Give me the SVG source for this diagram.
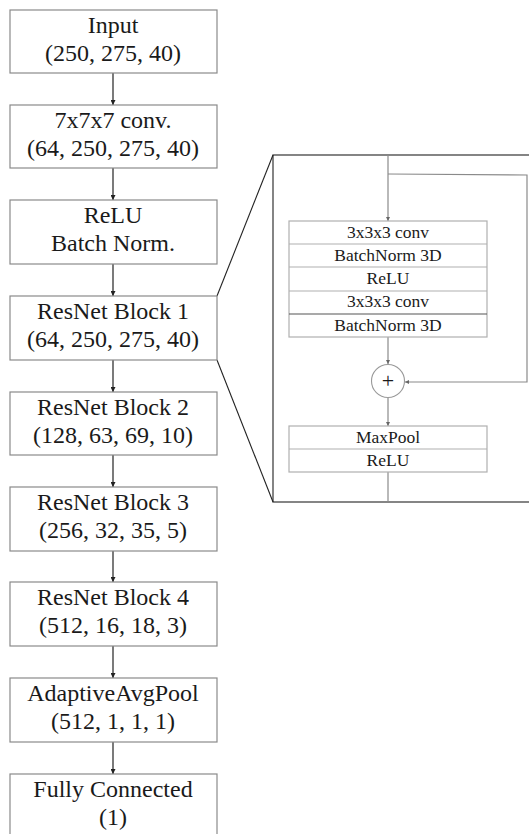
<svg xmlns="http://www.w3.org/2000/svg" width="529" height="834" viewBox="0 0 529 834">
<defs>
<style>
.box{fill:#fff;stroke:#8a8a8a;stroke-width:1.2}
.t{font-family:"Liberation Serif","DejaVu Serif",serif;font-size:24px;fill:#1a1a1a;text-anchor:middle}
.s{font-family:"Liberation Serif","DejaVu Serif",serif;font-size:17.5px;fill:#1a1a1a;text-anchor:middle}
.arr{stroke:#333;stroke-width:1.3;fill:none;marker-end:url(#ah)}
.garr{stroke:#8a8a8a;stroke-width:1.2;fill:none}
.ibox{fill:#fff;stroke:#b0b0b0;stroke-width:1.2}
.blk{stroke:#222;stroke-width:1.1;fill:none}
</style>
<marker id="ah" viewBox="0 0 8 8" refX="8" refY="4" markerWidth="5" markerHeight="5" orient="auto" markerUnits="userSpaceOnUse">
<path d="M0,0 L8,4 L0,8 z" fill="#222"/>
</marker>
<marker id="gh" viewBox="0 0 8 8" refX="8" refY="4" markerWidth="4" markerHeight="4" orient="auto" markerUnits="userSpaceOnUse">
<path d="M0,0 L8,4 L0,8 z" fill="#666"/>
</marker>
</defs>
<rect width="529" height="834" fill="#fff"/>

<g id="connectors">
<line class="arr" x1="113" y1="73" x2="113" y2="105"/>
<line class="arr" x1="113" y1="168" x2="113" y2="200"/>
<line class="arr" x1="113" y1="264" x2="113" y2="296"/>
<line class="arr" x1="113" y1="360" x2="113" y2="392"/>
<line class="arr" x1="113" y1="455" x2="113" y2="487"/>
<line class="arr" x1="113" y1="551" x2="113" y2="582"/>
<line class="arr" x1="113" y1="646" x2="113" y2="678"/>
<line class="arr" x1="113" y1="742" x2="113" y2="774"/>
<line class="blk" x1="217" y1="296" x2="273" y2="155"/>
<line class="blk" x1="217" y1="360" x2="273" y2="502"/>
</g>

<g id="input"><rect class="box" x="10" y="10" width="207" height="63"/>
<text class="t" x="113" y="33">Input</text><text class="t" x="113" y="61">(250, 275, 40)</text></g>
<g id="conv7"><rect class="box" x="10" y="105" width="207" height="63"/>
<text class="t" x="113" y="128">7x7x7 conv.</text><text class="t" x="113" y="156">(64, 250, 275, 40)</text></g>
<g id="relu-bn"><rect class="box" x="10" y="200" width="207" height="64"/>
<text class="t" x="113" y="223">ReLU</text><text class="t" x="113" y="251">Batch Norm.</text></g>
<g id="block1"><rect class="box" x="10" y="296" width="207" height="64"/>
<text class="t" x="113" y="319">ResNet Block 1</text><text class="t" x="113" y="347">(64, 250, 275, 40)</text></g>
<g id="block2"><rect class="box" x="10" y="392" width="207" height="63"/>
<text class="t" x="113" y="415">ResNet Block 2</text><text class="t" x="113" y="443">(128, 63, 69, 10)</text></g>
<g id="block3"><rect class="box" x="10" y="487" width="207" height="64"/>
<text class="t" x="113" y="510">ResNet Block 3</text><text class="t" x="113" y="538">(256, 32, 35, 5)</text></g>
<g id="block4"><rect class="box" x="10" y="582" width="207" height="64"/>
<text class="t" x="113" y="605">ResNet Block 4</text><text class="t" x="113" y="633">(512, 16, 18, 3)</text></g>
<g id="avgpool"><rect class="box" x="10" y="678" width="207" height="64"/>
<text class="t" x="113" y="701">AdaptiveAvgPool</text><text class="t" x="113" y="729">(512, 1, 1, 1)</text></g>
<g id="fc"><rect class="box" x="10" y="774" width="207" height="64"/>
<text class="t" x="113" y="797">Fully Connected</text><text class="t" x="113" y="825">(1)</text></g>

<g id="detail">
<rect x="273" y="155" width="270" height="347" fill="none" stroke="#222" stroke-width="1.1"/>
<g id="detail-connectors">
<line class="garr" x1="388" y1="155" x2="388" y2="221" marker-end="url(#gh)"/>
<polyline class="garr" points="388,174 527,175 527,382 405,382" marker-end="url(#gh)"/>
<line class="garr" x1="388" y1="337" x2="388" y2="364" marker-end="url(#gh)"/>
<line class="garr" x1="388" y1="398" x2="388" y2="426" marker-end="url(#gh)"/>
<line class="garr" x1="388" y1="472" x2="388" y2="502"/>
</g>
<g id="res-stack">
<rect class="ibox" x="289" y="221" width="198" height="116"/>
<line stroke="#b0b0b0" stroke-width="1.2" x1="289" y1="244" x2="487" y2="244"/>
<line stroke="#b0b0b0" stroke-width="1.2" x1="289" y1="267" x2="487" y2="267"/>
<line stroke="#b0b0b0" stroke-width="1.2" x1="289" y1="291" x2="487" y2="291"/>
<line stroke="#555" stroke-width="1.2" x1="289" y1="314" x2="487" y2="314"/>
<text class="s" x="388" y="238">3x3x3 conv</text>
<text class="s" x="388" y="261">BatchNorm 3D</text>
<text class="s" x="388" y="284">ReLU</text>
<text class="s" x="388" y="307">3x3x3 conv</text>
<text class="s" x="388" y="331">BatchNorm 3D</text>
</g>
<g id="plus">
<circle cx="388" cy="381" r="16.5" fill="#fff" stroke="#999" stroke-width="1.1"/>
<text class="s" x="388" y="388" style="font-size:22px">+</text>
</g>
<g id="pool-stack">
<rect class="ibox" x="289" y="426" width="198" height="46"/>
<line stroke="#b0b0b0" stroke-width="1.2" x1="289" y1="449" x2="487" y2="449"/>
<text class="s" x="388" y="443">MaxPool</text>
<text class="s" x="388" y="466">ReLU</text>
</g>
</g>
</svg>
